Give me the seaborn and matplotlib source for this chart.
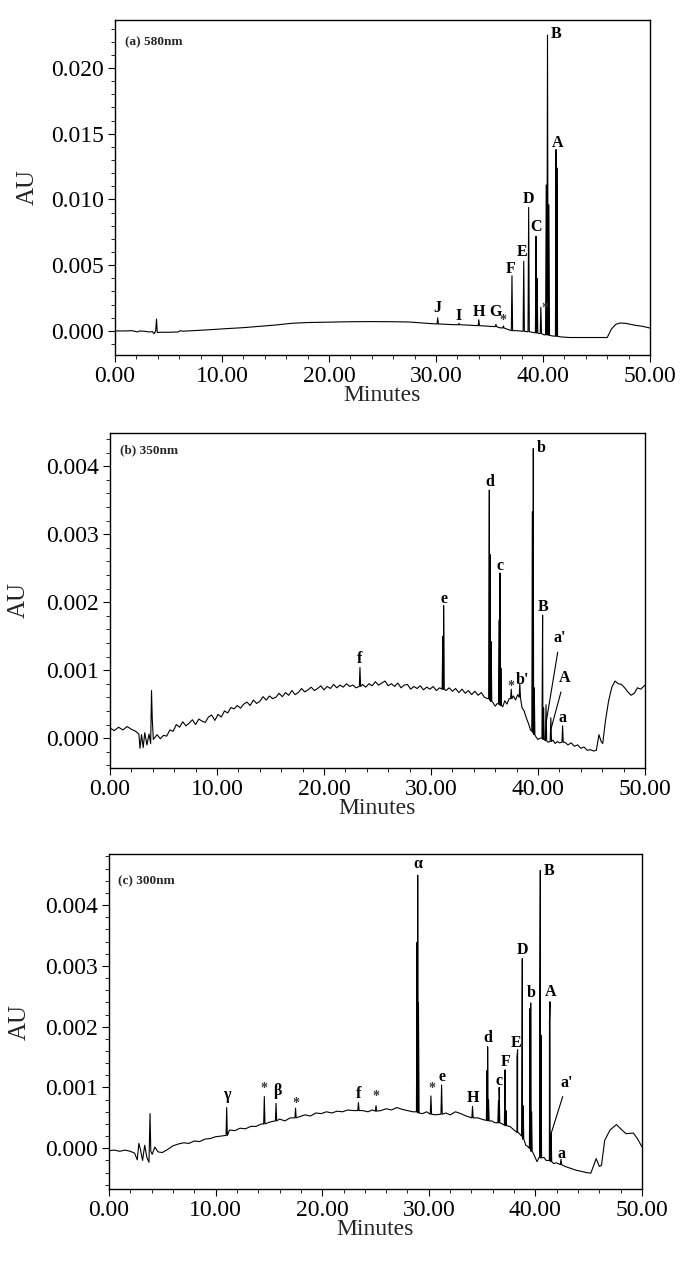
import numpy as np
import pandas as pd
import matplotlib
matplotlib.use("Agg")
import matplotlib.pyplot as plt
import seaborn as sns
from matplotlib.ticker import MultipleLocator, FormatStrFormatter

# ---------------- data ----------------
# Panel (a) 580 nm : baseline points (minutes, AU)
base_t_a = [0.0, 1.0, 1.6, 2.1, 2.3, 2.8, 3.2, 3.5, 3.65, 3.8, 3.88, 3.95, 4.3, 5.0,
            5.9, 6.1, 6.3, 7.5, 9.0, 10.5, 12.0, 13.5, 15.0, 16.5, 18.0, 20.0, 22.0,
            24.0, 26.0, 27.5, 28.5, 29.5, 30.6, 31.5, 32.6, 33.5, 34.5, 35.2, 35.9,
            36.6, 37.6, 38.45, 39.0, 39.65, 40.05, 40.85, 41.6, 42.5, 44.0, 45.5,
            46.0, 46.4, 46.8, 47.2, 47.7, 48.2, 48.7, 49.3, 50.0]
base_v_a = [0.0, 0.0, 0.00002, -0.00008, 0.0, -0.00003, -0.00008, -0.00005, -0.00022,
            0.0, 0.0009, -0.00012, -0.0001, -0.0001, -0.00008, 0.00002, -0.00002,
            0.00003, 0.0001, 0.00018, 0.00025, 0.00035, 0.00045, 0.00058, 0.00064,
            0.00067, 0.0007, 0.00071, 0.0007, 0.00068, 0.00062, 0.00056, 0.00052,
            0.00048, 0.00046, 0.00042, 0.00038, 0.00034, 0.00025, 0.00015, 0.00002,
            -0.00005, -0.0001, -0.0002, -0.00028, -0.00038, -0.00045, -0.0005,
            -0.0005, -0.0005, -0.0005, 0.00015, 0.0005, 0.0006, 0.00058, 0.0005,
            0.00042, 0.00035, 0.00022]
# peaks: retention time, apex AU, baseline AU under the peak, label
pk_t_a = [30.16, 32.15, 34.0, 35.6, 36.3, 37.1, 38.2, 38.66, 39.35, 39.45, 39.8,
          40.3, 40.42, 40.55, 41.22, 41.3]
pk_h_a = [0.0010, 0.00058, 0.00085, 0.0005, 0.00038, 0.0042, 0.0053, 0.0094, 0.0072,
          0.0040, 0.0018, 0.0111, 0.0225, 0.0096, 0.0138, 0.0124]
pk_f_a = [0.00053, 0.00047, 0.0004, 0.00033, 0.00022, 0.00002, -0.00003, -0.00006,
          -0.00015, -0.00016, -0.0002, -0.0003, -0.0003, -0.00033, -0.0004, -0.0004]
pk_lab_a = ['J', 'I', 'H', 'G', '*', 'F', 'E', 'D', 'C', '', '*', '', 'B', '', 'A', '']

# Panel (b) 350 nm
base_t_b = [0.0, 0.4, 0.8, 1.2, 1.6, 2.0, 2.4, 2.7, 2.8, 2.95, 3.1, 3.25, 3.45, 3.65,
            3.8, 3.88, 3.95, 4.05,
            4.4, 4.7, 5.0, 5.3, 5.6, 5.9, 6.2, 6.5, 6.8, 7.1, 7.4, 7.7, 8.0, 8.3,
            8.6, 8.9, 9.2, 9.5, 9.8, 10.1, 10.4, 10.7, 11.0, 11.3, 11.6, 11.9, 12.2,
            12.5, 12.8, 13.1, 13.4, 13.7, 14.0, 14.3, 14.6, 14.9, 15.2, 15.5, 15.8,
            16.1, 16.4, 16.7, 17.0, 17.3, 17.6, 17.9, 18.2, 18.5, 18.8, 19.1, 19.4,
            19.7, 20.0, 20.3, 20.6, 20.9, 21.2, 21.5, 21.8, 22.1, 22.4, 22.7, 23.0,
            23.6, 23.9, 24.2, 24.5, 24.8, 25.1, 25.4, 25.7, 26.0, 26.3, 26.6, 26.9,
            27.2, 27.5, 27.8, 28.1, 28.4, 28.7, 29.0, 29.3, 29.6, 29.9, 30.2, 30.5,
            30.8, 31.4, 31.7, 32.0, 32.3, 32.6, 32.9, 33.2, 33.5, 33.8, 34.1, 34.4,
            34.7, 35.0, 35.3,
            35.8, 36.0, 36.2, 36.7, 36.9, 37.1, 37.3, 37.7, 37.9, 38.1, 38.5, 38.7,
            38.9, 39.1, 39.3, 39.8, 40.0, 40.2, 40.95, 41.4, 41.6, 41.8, 42.0, 42.5,
            42.8, 43.1, 43.4, 43.7, 44.0, 44.3, 44.6, 44.9, 45.2, 45.45, 45.7, 45.9,
            46.05, 46.3, 46.6, 46.9, 47.2, 47.5, 47.8, 48.1, 48.4, 48.7, 49.0, 49.3,
            49.6, 50.0]
base_v_b = [0.15e-3, 0.11e-3, 0.16e-3, 0.12e-3, 0.17e-3, 0.13e-3, 0.10e-3, 0.06e-3,
            -0.15e-3, 0.05e-3, -0.14e-3, 0.08e-3, -0.10e-3, 0.06e-3, -0.08e-3,
            0.70e-3, 0.28e-3, -0.02e-3,
            0.05e-3, -0.01e-3, 0.04e-3, 0.03e-3, 0.12e-3, 0.10e-3, 0.20e-3, 0.16e-3,
            0.24e-3, 0.18e-3, 0.22e-3, 0.27e-3, 0.20e-3, 0.28e-3, 0.25e-3, 0.23e-3,
            0.31e-3, 0.34e-3, 0.26e-3, 0.35e-3, 0.31e-3, 0.40e-3, 0.37e-3, 0.45e-3,
            0.43e-3, 0.48e-3, 0.44e-3, 0.50e-3, 0.53e-3, 0.48e-3, 0.56e-3, 0.51e-3,
            0.54e-3, 0.61e-3, 0.56e-3, 0.62e-3, 0.58e-3, 0.60e-3, 0.66e-3, 0.61e-3,
            0.67e-3, 0.63e-3, 0.70e-3, 0.64e-3, 0.67e-3, 0.73e-3, 0.68e-3, 0.71e-3,
            0.75e-3, 0.70e-3, 0.73e-3, 0.77e-3, 0.71e-3, 0.76e-3, 0.73e-3, 0.79e-3,
            0.74e-3, 0.78e-3, 0.75e-3, 0.80e-3, 0.76e-3, 0.78e-3, 0.74e-3, 0.79e-3,
            0.75e-3, 0.80e-3, 0.77e-3, 0.83e-3, 0.78e-3, 0.81e-3, 0.84e-3, 0.77e-3,
            0.80e-3, 0.76e-3, 0.81e-3, 0.74e-3, 0.78e-3, 0.79e-3, 0.72e-3, 0.76e-3,
            0.73e-3, 0.77e-3, 0.71e-3, 0.75e-3, 0.72e-3, 0.76e-3, 0.70e-3, 0.74e-3,
            0.70e-3, 0.74e-3, 0.69e-3, 0.73e-3, 0.67e-3, 0.72e-3, 0.66e-3, 0.70e-3,
            0.64e-3, 0.69e-3, 0.63e-3, 0.67e-3, 0.60e-3, 0.58e-3,
            0.52e-3, 0.47e-3, 0.51e-3, 0.46e-3, 0.55e-3, 0.50e-3, 0.58e-3, 0.62e-3,
            0.56e-3, 0.64e-3, 0.45e-3, 0.40e-3, 0.30e-3, 0.22e-3, 0.12e-3, 0.02e-3,
            -0.02e-3, 0.00e-3, -0.06e-3, -0.03e-3, -0.08e-3, -0.05e-3, -0.07e-3,
            -0.06e-3, -0.10e-3, -0.07e-3, -0.12e-3, -0.10e-3, -0.15e-3, -0.13e-3,
            -0.18e-3, -0.17e-3, -0.19e-3, -0.18e-3, 0.05e-3, -0.05e-3, -0.08e-3,
            0.25e-3, 0.55e-3, 0.75e-3, 0.84e-3, 0.80e-3, 0.79e-3, 0.74e-3, 0.68e-3,
            0.63e-3, 0.66e-3, 0.74e-3, 0.72e-3, 0.78e-3]
pk_t_b = [23.36, 31.1, 31.18, 35.45, 35.53, 35.62, 36.38, 36.45, 36.53, 37.5, 38.3,
          39.48, 39.56, 39.65, 40.43, 40.52, 40.75, 41.2, 42.3]
pk_h_b = [1.04e-3, 1.50e-3, 1.95e-3, 3.65e-3, 2.70e-3, 1.42e-3, 1.74e-3, 2.43e-3,
          1.03e-3, 0.72e-3, 0.80e-3, 3.33e-3, 4.26e-3, 0.74e-3, 1.81e-3, 0.45e-3,
          0.49e-3, 0.30e-3, 0.18e-3]
pk_f_b = [0.76e-3, 0.72e-3, 0.72e-3, 0.58e-3, 0.56e-3, 0.54e-3, 0.50e-3, 0.50e-3,
          0.48e-3, 0.58e-3, 0.60e-3, 0.10e-3, 0.08e-3, 0.05e-3, 0.0, -0.02e-3,
          -0.04e-3, -0.05e-3, -0.06e-3]
pk_lab_b = ['f', '', 'e', 'd', '', '', '', 'c', '', '*', "b'", '', 'b', '', 'B', '',
            '', '', 'a']
lead_lab_b = ["a'", 'A']
lead_t_b = [40.75, 41.19]
lead_v_b = [0.22e-3, 0.12e-3]

# Panel (c) 300 nm
base_t_c = [0.0, 0.5, 1.0, 1.5, 2.0, 2.4, 2.65, 2.8, 2.95, 3.15, 3.35, 3.55, 3.75,
            3.85, 3.92, 4.05, 4.3, 4.6, 5.0, 5.5, 6.0, 6.5, 7.0, 7.5, 8.0, 8.5, 9.0,
            9.5, 10.0, 10.5, 10.9, 11.3, 11.8, 12.3, 12.8, 13.3, 13.8, 14.3, 14.9,
            15.3, 16.0, 16.5, 17.0, 17.9, 18.4, 18.9, 19.4, 19.9, 20.4, 20.9, 21.4,
            21.9, 22.4, 22.9, 23.8, 24.3, 24.7, 25.5, 26.0, 26.5, 27.0, 27.5, 28.0,
            28.5, 29.4, 29.8, 30.6, 31.6, 32.0, 32.5, 33.0, 33.5, 34.6, 35.1, 35.9,
            36.2, 36.9, 37.6, 38.0, 39.1, 39.35, 39.85, 40.15, 40.8, 41.0, 41.7,
            42.0, 42.8, 43.3, 43.8, 44.3, 44.8, 45.2, 45.7, 46.0, 46.2, 46.5, 47.0,
            47.6, 48.0, 48.5, 49.2, 49.6, 50.0]
base_v_c = [-0.04e-3, -0.03e-3, -0.05e-3, -0.03e-3, -0.05e-3, -0.08e-3, -0.19e-3,
            0.08e-3, -0.02e-3, -0.20e-3, 0.05e-3, -0.15e-3, -0.23e-3, 0.57e-3,
            -0.05e-3, -0.10e-3, 0.02e-3, -0.06e-3, -0.07e-3, -0.02e-3, 0.04e-3,
            0.07e-3, 0.09e-3, 0.08e-3, 0.12e-3, 0.11e-3, 0.15e-3, 0.16e-3, 0.19e-3,
            0.20e-3, 0.21e-3, 0.30e-3, 0.29e-3, 0.33e-3, 0.32e-3, 0.36e-3, 0.36e-3,
            0.40e-3, 0.42e-3, 0.44e-3, 0.48e-3, 0.45e-3, 0.50e-3, 0.52e-3, 0.55e-3,
            0.53e-3, 0.58e-3, 0.57e-3, 0.60e-3, 0.58e-3, 0.61e-3, 0.60e-3, 0.63e-3,
            0.62e-3, 0.62e-3, 0.60e-3, 0.63e-3, 0.62e-3, 0.65e-3, 0.63e-3, 0.67e-3,
            0.64e-3, 0.62e-3, 0.60e-3, 0.57e-3, 0.60e-3, 0.55e-3, 0.58e-3, 0.55e-3,
            0.60e-3, 0.57e-3, 0.53e-3, 0.50e-3, 0.47e-3, 0.45e-3, 0.42e-3, 0.40e-3,
            0.36e-3, 0.30e-3, 0.05e-3, 0.02e-3, -0.10e-3, -0.22e-3, -0.15e-3,
            -0.20e-3, -0.25e-3, -0.24e-3, -0.30e-3, -0.33e-3, -0.36e-3, -0.38e-3,
            -0.40e-3, -0.41e-3, -0.17e-3, -0.30e-3, -0.28e-3, 0.13e-3, 0.30e-3,
            0.39e-3, 0.32e-3, 0.24e-3, 0.25e-3, 0.15e-3, 0.02e-3]
pk_t_c = [11.04, 14.57, 15.67, 17.5, 23.4, 25.05, 28.9, 28.96, 29.03, 30.2, 31.2,
          34.1, 35.46, 35.52, 35.6, 36.54, 36.6, 37.15, 37.24, 38.27, 38.33, 38.77,
          38.85, 39.5, 39.56, 39.64, 40.41, 40.46, 40.52, 41.32, 41.37, 41.47, 42.4]
pk_h_c = [0.67e-3, 0.85e-3, 0.74e-3, 0.66e-3, 0.75e-3, 0.70e-3, 3.39e-3, 4.49e-3,
          2.39e-3, 0.86e-3, 1.04e-3, 0.69e-3, 1.28e-3, 1.67e-3, 0.80e-3, 0.78e-3,
          1.00e-3, 1.29e-3, 0.62e-3, 1.50e-3, 1.62e-3, 3.12e-3, 0.70e-3, 2.30e-3,
          2.39e-3, 0.60e-3, 2.23e-3, 4.57e-3, 1.86e-3, 2.10e-3, 2.41e-3, 0.25e-3,
          -0.18e-3]
pk_f_c = [0.21e-3, 0.40e-3, 0.45e-3, 0.50e-3, 0.62e-3, 0.61e-3, 0.60e-3, 0.60e-3,
          0.58e-3, 0.56e-3, 0.56e-3, 0.50e-3, 0.46e-3, 0.46e-3, 0.45e-3, 0.42e-3,
          0.42e-3, 0.38e-3, 0.37e-3, 0.27e-3, 0.26e-3, 0.20e-3, 0.15e-3, 0.00e-3,
          0.00e-3, -0.05e-3, -0.15e-3, -0.15e-3, -0.16e-3, -0.20e-3, -0.20e-3,
          -0.22e-3, -0.27e-3]
pk_lab_c = ['γ', '*', 'β', '*', 'f', '*', '', 'α', '', '*', 'e', 'H', '', 'd', '', '',
            'c', 'F', '', '', 'E', 'D', '', '', 'b', '', '', 'B', '', '', 'A', '', 'a']
lead_lab_c = ["a'"]
lead_t_c = [41.47]
lead_v_c = [0.24e-3]

titles = ['(a) 580nm', '(b) 350nm', '(c) 300nm']
x_ticks = [0, 10, 20, 30, 40, 50]

# ---------------- layout / style (not data) ----------------
# label offsets in pixels (dx, dy) relative to the peak apex
offs_a = [(0, 6), (0, 3), (0, 4), (0, 8), (0, 5), (-1, 3), (-2, 5), (0, 4), (0, 5),
          None, (4, -1), None, (9, -3), None, (2, 3), None]
offs_b = [(0, 4), None, (0, 3), (0, 4), None, None, None, (0, 3), None, (0, 3),
          (3, 0), None, (8, -3), None, (0, 4), None, None, None, (0, 4)]
offs_c = [(0, 9), (0, 8), (1, 8), (0, 5), (0, 5), (0, 9), None, (0, 7), None, (1, 7),
          (0, 4), (0, 4), None, (0, 5), None, None, (0, 2), (1, 4), None, None,
          (-2, 3), (0, 5), None, None, (1, 6), None, None, (9, -5), None, None,
          (1, 6), None, (1, 1)]
lead_offs_b = [(14, 85), (14, 52)]
lead_offs_c = [(16, 51)]

W, H = 685, 1265
axes_px = [  # left, top, right, bottom in pixels
    (115, 20, 650, 355),
    (110, 433, 645, 768),
    (109, 854, 642, 1189),
]
ylims = [(-0.00183, 0.02365), (-0.00044, 0.00449), (-0.00067, 0.00484)]
y_major = [0.005, 0.001, 0.001]
y_minor = [0.001, 0.0002, 0.0002]
title_off = [(10, -22), (10, -17), (9, -27)]
ylabel_x = [-0.1636, -0.170, -0.167]

sns.set_theme(style="ticks")
plt.rcParams['font.family'] = ['Liberation Serif', 'DejaVu Serif']
plt.rcParams['axes.linewidth'] = 1.0

fig = plt.figure(figsize=(W / 100, H / 100), dpi=100)
HW = 0.06  # half-width of a peak in minutes


def build_trace(bt, bv, pt, ph, pf):
    t = list(bt)
    v = list(bv)
    for tt, hh, ff in zip(pt, ph, pf):
        t += [tt - HW, tt, tt + HW]
        v += [ff, hh, ff]
    df = pd.DataFrame({'Minutes': t, 'AU': v})
    return df.sort_values('Minutes', kind='mergesort').reset_index(drop=True)


panels = [
    (base_t_a, base_v_a, pk_t_a, pk_h_a, pk_f_a, pk_lab_a, offs_a, [], [], [], []),
    (base_t_b, base_v_b, pk_t_b, pk_h_b, pk_f_b, pk_lab_b, offs_b,
     lead_lab_b, lead_t_b, lead_v_b, lead_offs_b),
    (base_t_c, base_v_c, pk_t_c, pk_h_c, pk_f_c, pk_lab_c, offs_c,
     lead_lab_c, lead_t_c, lead_v_c, lead_offs_c),
]

lab_font = dict(fontsize=11.5, fontweight='bold', color='black')

for i, (bt, bv, pt, ph, pf, labs, offs, llab, lt, lv, loffs) in enumerate(panels):
    l, t, r, b = axes_px[i]
    ax = fig.add_axes([l / W, 1 - b / H, (r - l) / W, (b - t) / H])
    df = build_trace(bt, bv, pt, ph, pf)
    sns.lineplot(data=df, x='Minutes', y='AU', estimator=None, sort=False,
                 color='black', linewidth=0.8, ax=ax)
    ax.set_xlim(0, 50)
    ax.set_ylim(*ylims[i])
    ax.set_xticks(x_ticks)
    ax.xaxis.set_minor_locator(MultipleLocator(2))
    ax.yaxis.set_major_locator(MultipleLocator(y_major[i]))
    ax.yaxis.set_minor_locator(MultipleLocator(y_minor[i]))
    ax.xaxis.set_major_formatter(FormatStrFormatter('%.2f'))
    ax.yaxis.set_major_formatter(FormatStrFormatter('%.3f'))
    ax.tick_params(which='major', direction='out', length=5, width=0.8,
                   labelsize=17, pad=3, colors='black')
    ax.tick_params(which='minor', direction='out', length=3, width=0.7)
    ax.tick_params(axis='x', which='major', pad=3)
    for s in ax.spines.values():
        s.set_visible(True)
        s.set_color('black')
        s.set_linewidth(1.0)
    ax.set_xlabel('Minutes', fontsize=17, va='baseline')
    ax.xaxis.set_label_coords(0.5, -46 / (b - t))
    ax.set_ylabel('AU', fontsize=18, va='center')
    ax.yaxis.set_label_coords(ylabel_x[i], 0.5)

    ax.annotate(titles[i], xy=(0, 1), xycoords='axes fraction',
                xytext=title_off[i], textcoords='offset pixels',
                ha='left', va='center', fontsize=9.5, fontweight='bold')

    for tt, hh, lab, off in zip(pt, ph, labs, offs):
        if not lab or off is None:
            continue
        if lab == '*':
            ax.annotate(lab, xy=(tt, hh), xytext=off, textcoords='offset pixels',
                        ha='center', va='center', fontsize=10, fontweight='bold',
                        color='#333333')
        else:
            ax.annotate(lab, xy=(tt, hh), xytext=off, textcoords='offset pixels',
                        ha='center', va='baseline', **lab_font)

    for lab, tt, vv, off in zip(llab, lt, lv, loffs):
        ax.annotate(lab, xy=(tt, vv), xytext=off, textcoords='offset pixels',
                    ha='center', va='center', **lab_font,
                    arrowprops=dict(arrowstyle='-', color='black', lw=0.8,
                                    shrinkA=2, shrinkB=0))

fig.savefig('out.png', dpi=100)
